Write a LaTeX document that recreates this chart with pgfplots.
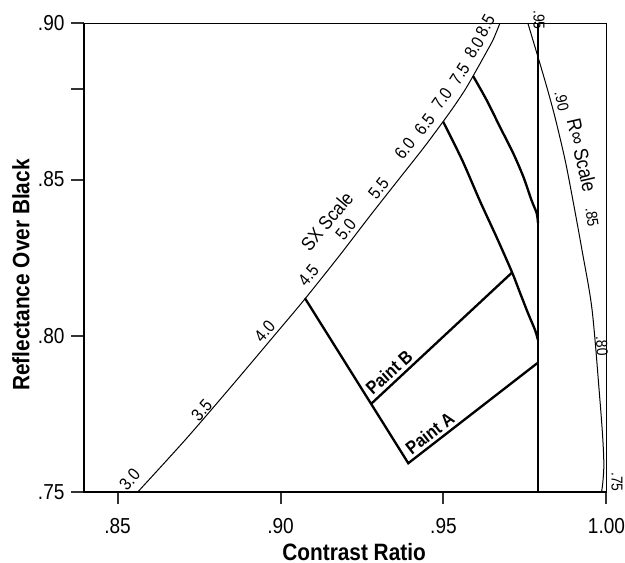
\documentclass[border=0pt]{standalone}
\usepackage{pgfplots}
\pgfplotsset{compat=1.18}
\usepackage{fontspec}
\setmainfont{Liberation Sans}[FakeStretch=0.88]

\begin{document}
\begin{tikzpicture}
\begin{axis}[
  scale only axis, width=313.5pt, height=281.2pt,
  xmin=0.8397, xmax=1.0, ymin=0.75, ymax=0.90,
  clip=false,
  axis line style={line width=0.7pt},
  xtick={0.85,0.90,0.95,1.00}, xticklabels={.85,.90,.95,1.00},
  ytick={0.75,0.80,0.85,0.879,0.90}, yticklabels={.75,.80,.85,,.90},
  tick align=outside, tick pos=left,
  major tick length=7.5pt,
  xtick style={draw=black!80, line width=1.2pt},
  ytick style={draw=black!80, line width=1.2pt},
  ticklabel style={font=\fontsize{13}{15}\selectfont, inner sep=0pt},
  xticklabel style={yshift=-8.2pt},
  yticklabel style={xshift=-4pt},
  xlabel={Contrast Ratio},
  ylabel={Reflectance Over Black},
  label style={font=\fontsize{14.2}{16}\selectfont\bfseries, inner sep=0pt},
  xlabel style={at={(axis description cs:0.517,-0.128)}, anchor=center},
  ylabel style={at={(axis description cs:-0.1206,0.463)}, anchor=center},
]
% SX scale line
\addplot[line width=0.6pt, smooth] coordinates {
(0.8562,0.7500)(0.8707,0.7666)(0.8845,0.7833)(0.8998,0.8022)(0.9075,0.8118)
(0.9182,0.8258)(0.9274,0.8383)(0.9366,0.8505)(0.9443,0.8607)(0.9520,0.8716)
(0.9566,0.8787)(0.9596,0.8841)(0.9627,0.8899)(0.9652,0.8947)(0.9673,0.9000)};
% R-infinity scale curve
\addplot[line width=0.6pt, smooth] coordinates {
(0.9759,0.9000)(0.9790,0.8892)(0.9817,0.8796)(0.9842,0.8700)(0.9873,0.8563)
(0.9897,0.8434)(0.9925,0.8274)(0.9956,0.8082)(0.9980,0.7794)(0.9989,0.7666)
(0.9992,0.7586)(0.9989,0.7532)(0.9985,0.7500)};
% vertical line
\addplot[line width=1.4pt] coordinates {(0.979,0.75)(0.979,0.90)};
% upper curve (from SX ~8)
\addplot[line width=1.4pt, smooth] coordinates {
(0.9591,0.8831)(0.9632,0.8755)(0.9673,0.8669)(0.9714,0.8584)(0.9745,0.8509)
(0.9770,0.8434)(0.9786,0.8392)(0.9790,0.8360)};
% middle curve (from SX ~6.7)
\addplot[line width=1.4pt, smooth] coordinates {
(0.9499,0.8685)(0.9557,0.8563)(0.9612,0.8431)(0.9664,0.8313)(0.9710,0.8204)
(0.9735,0.8137)(0.9759,0.8073)(0.9781,0.8018)(0.9790,0.7986)};
% Paint A path (from SX 4.5 down to corner, then to vertical line)
\addplot[line width=1.4pt, line join=miter] coordinates {
(0.9075,0.8120)(0.9392,0.7592)(0.9790,0.7914)};
% Paint B
\addplot[line width=1.4pt] coordinates {(0.9279,0.7783)(0.9710,0.8202)};

% SX scale labels
\begin{scope}[every node/.style={font=\fontsize{10.5}{12}\selectfont, inner sep=0pt}]
\node[rotate=49] at (axis cs:0.8537,0.7540) {3.0};
\node[rotate=49] at (axis cs:0.8758,0.7762) {3.5};
\node[rotate=49] at (axis cs:0.8951,0.8014) {4.0};
\node[rotate=50] at (axis cs:0.9086,0.8193) {4.5};
\node[rotate=52] at (axis cs:0.9200,0.8340) {5.0};
\node[rotate=52] at (axis cs:0.9301,0.8471) {5.5};
\node[rotate=52] at (axis cs:0.9381,0.8599) {6.0};
\node[rotate=53] at (axis cs:0.9442,0.8676) {6.5};
\node[rotate=55] at (axis cs:0.9495,0.8760) {7.0};
\node[rotate=57] at (axis cs:0.9550,0.8838) {7.5};
\node[rotate=58] at (axis cs:0.9594,0.8922) {8.0};
\node[rotate=60] at (axis cs:0.9628,0.8992) {8.5};
\end{scope}
\node[rotate=50, font=\fontsize{11.5}{13}\selectfont, inner sep=0pt] at (axis cs:0.9142,0.8367) {SX Scale};
% R-infinity labels
\begin{scope}[every node/.style={font=\fontsize{9.5}{11}\selectfont, inner sep=0pt}]
\node[rotate=-90] at (axis cs:0.9793,0.9011) {.95};
\node[rotate=-78] at (axis cs:0.9863,0.8751) {.90};
\node[rotate=-82] at (axis cs:0.9956,0.8380) {.85};
\node[rotate=-87] at (axis cs:0.9986,0.7967) {.80};
\node[rotate=-90] at (axis cs:1.0032,0.7532) {.75};
\end{scope}
\node[rotate=-77, font=\fontsize{12}{14}\selectfont, inner sep=0pt] at (axis cs:0.9925,0.8578) {R∞ Scale};
% Paint labels
\node[rotate=42, font=\fontsize{11}{13}\selectfont\bfseries, inner sep=0pt] at (axis cs:0.9333,0.7884) {Paint B};
\node[rotate=38, font=\fontsize{11}{13}\selectfont\bfseries, inner sep=0pt] at (axis cs:0.9458,0.7689) {Paint A};
\end{axis}
\path (current axis.south west) ++(-50.4pt,-42.6pt) rectangle ++(375pt,337.8pt);
\end{tikzpicture}
\end{document}
